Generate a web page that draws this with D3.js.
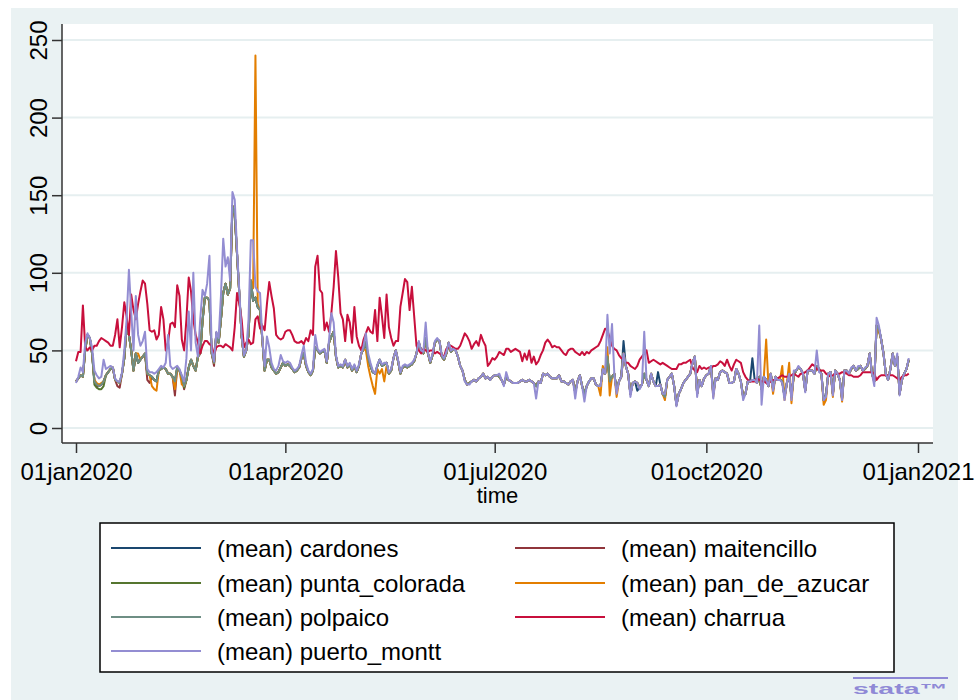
<!DOCTYPE html>
<html>
<head>
<meta charset="utf-8">
<script src="https://cdn.jsdelivr.net/npm/d3@7"></script>
<style>
  html, body { margin: 0; padding: 0; background: #ffffff; }
  svg { display: block; font-family: "Liberation Sans", Arial, Helvetica, sans-serif; }
</style>
</head>
<body>
<svg id="chart" width="976" height="700"></svg>
<script>
// Daily means per substation, starting 01jan2020 (one value per day)
const startDate = "2020-01-01";

const yTicks = [0, 50, 100, 150, 200, 250];
const xTickDates = ["2020-01-01", "2020-04-01", "2020-07-01", "2020-10-01", "2021-01-01"];
const xTickLabels = ["01jan2020", "01apr2020", "01jul2020", "01oct2020", "01jan2021"];

const seriesNames = ["cardones", "maitencillo", "punta_colorada", "pan_de_azucar", "polpaico", "charrua", "puerto_montt"];

const cardones = [
  30,32,34,33,50,60,58,48,30,28, 27,28,30,34,36,38,39,31,30,29, 35,45,65,60,50,37,48,42,44,46,
  48,35,34,33,31,30,37,38,39,38, 35,35,33,30,39,37,33,27,31,39, 44,40,37,46,48,69,84,84,82,48,
  42,61,55,70,87,93,86,90,143,138, 112,86,59,46,50,60,95,82,84,78, 76,57,37,44,44,39,37,35,36,39,
  42,40,41,40,38,36,37,39,45,48, 40,36,34,37,52,50,48,49,50,42, 55,59,62,46,39,40,39,44,39,41,
  37,40,36,40,48,51,55,45,40,36, 35,40,44,40,41,42,35,37,45,50, 43,35,39,40,39,40,41,43,48,55,
  50,48,58,48,42,47,55,57,56,46, 44,48,55,49,51,50,46,40,37,31, 28,29,30,31,30,32,33,35,32,33,
  31,33,34,34,33,31,28,33,31,30, 29,29,29,30,31,30,30,31,30,29, 27,30,29,35,34,35,33,32,32,32,
  34,30,30,29,28,30,31,23,30,34, 27,22,27,30,32,32,28,27,27,38, 35,46,30,33,35,24,30,33,56,40,
  35,22,29,30,24,26,28,35,31,27, 35,30,27,36,28,22,20,31,33,35, 27,15,22,25,29,31,33,35,42,46,
  22,31,27,32,34,35,40,22,32,31, 36,37,36,35,29,29,30,38,35,30, 20,22,30,30,45,31,29,33,25,33,
  31,27,35,25,33,31,31,30,20,29, 34,20,34,37,39,38,35,24,37,37, 37,35,40,38,35,18,21,35,36,22,
  37,35,31,19,37,37,35,38,40,37, 38,40,37,38,40,48,35,30,66,64, 57,48,35,31,38,48,40,46,22,31,
  35,38,44
];

const maitencillo = [
  30,32,34,33,50,60,58,48,30,27, 27,28,30,34,36,38,39,31,27,26, 35,45,65,60,50,37,48,42,44,46,
  48,31,29,33,31,30,37,38,39,38, 35,35,33,21,39,37,33,25,31,39, 44,40,37,46,48,69,84,84,82,48,
  40,61,55,70,87,93,86,90,143,138, 112,86,59,46,50,60,95,82,84,78, 76,57,37,44,44,39,37,35,36,39,
  42,40,41,40,38,36,37,39,45,48, 40,36,34,37,52,50,48,49,50,42, 55,59,62,46,39,40,39,44,39,41,
  37,40,36,40,48,51,55,45,40,36, 35,40,44,40,41,42,35,37,45,50, 43,35,39,40,39,40,41,43,48,55,
  50,48,58,48,42,47,55,57,56,46, 44,48,55,49,51,50,46,40,37,31, 28,29,30,31,30,32,33,35,32,33,
  31,33,34,34,33,31,28,33,31,30, 29,29,29,30,31,30,30,31,30,29, 27,30,29,35,34,35,33,32,32,32,
  34,30,30,29,28,30,31,23,30,34, 27,22,27,30,32,32,28,27,27,38, 35,46,30,33,35,24,30,33,48,40,
  35,22,29,30,29,26,28,35,31,27, 35,30,27,27,28,22,20,31,33,35, 27,15,22,25,29,31,33,35,42,46,
  22,31,27,32,34,35,40,22,32,31, 36,37,36,35,29,29,30,38,35,30, 20,22,30,30,31,31,29,33,25,33,
  31,27,35,25,33,31,31,30,20,29, 34,20,34,37,39,38,35,24,37,37, 37,35,40,38,35,18,21,35,36,22,
  37,35,31,19,37,37,35,38,40,37, 38,40,37,38,40,48,35,30,66,64, 57,48,35,31,38,48,40,46,22,31,
  35,38,44
];

const punta_colorada = [
  30,32,34,33,50,60,58,48,28,26, 25,25,27,34,36,38,39,31,30,29, 35,45,65,60,50,37,48,42,44,46,
  48,35,34,33,31,30,37,38,39,38, 35,35,33,30,39,37,33,26,31,39, 44,40,37,46,48,69,84,84,82,48,
  42,61,55,70,87,93,86,90,143,138, 112,86,59,46,50,60,95,82,84,78, 76,57,37,44,44,39,37,35,36,39,
  42,40,41,40,38,36,37,39,45,48, 40,36,34,37,52,50,48,49,50,42, 55,59,62,46,39,40,39,44,39,41,
  37,40,36,40,48,51,55,45,40,36, 35,40,44,40,41,42,35,37,45,50, 43,35,39,40,39,40,41,43,48,55,
  50,48,58,48,42,47,55,57,56,46, 44,48,55,49,51,50,46,40,37,31, 28,29,30,31,30,32,33,35,32,33,
  31,33,34,34,33,31,28,33,31,30, 29,29,29,30,31,30,30,31,30,29, 27,30,29,35,34,35,33,32,32,32,
  34,30,30,29,28,30,31,23,30,34, 27,22,27,30,32,32,28,27,27,38, 35,46,30,33,35,24,30,33,48,40,
  35,22,29,30,29,26,28,35,31,27, 35,30,27,27,28,22,20,31,33,35, 27,15,22,25,29,31,33,35,42,46,
  22,31,27,32,34,35,40,22,32,31, 36,37,36,35,29,29,30,38,35,30, 20,22,30,30,31,31,29,33,25,33,
  31,27,35,25,33,31,31,30,20,29, 34,20,34,37,39,38,35,24,37,37, 37,35,40,38,35,18,21,35,36,22,
  37,35,31,19,37,37,35,38,40,37, 38,40,37,38,40,48,35,30,66,64, 57,48,35,31,38,48,40,46,22,31,
  35,38,44
];

const pan_de_azucar = [
  30,32,34,33,50,60,58,48,31,29, 28,29,30,34,36,38,39,31,30,29, 35,45,65,60,50,37,48,48,44,46,
  48,35,34,27,25,24,37,38,39,38, 35,35,33,25,39,37,28,27,31,39, 44,40,37,46,48,69,84,84,82,48,
  42,61,55,70,87,93,86,90,143,138, 112,86,59,46,50,60,95,90,240,80, 76,57,37,44,44,39,37,35,36,39,
  42,40,41,40,38,36,37,39,45,48, 40,36,34,37,52,50,48,49,50,42, 55,59,62,46,39,40,39,44,39,41,
  37,40,36,40,48,51,50,40,33,27, 22,38,35,38,30,40,35,37,45,50, 43,35,39,40,39,40,41,43,48,55,
  50,48,58,48,42,47,55,57,56,46, 44,48,55,49,51,50,46,40,37,31, 28,29,30,31,30,32,33,35,32,33,
  31,33,34,34,33,31,28,33,31,30, 29,29,29,30,31,30,30,31,30,29, 27,30,29,35,34,35,33,32,32,32,
  34,30,30,29,28,30,31,23,30,34, 27,22,27,30,32,32,28,27,21,40, 35,52,21,33,35,20,30,33,48,40,
  35,22,29,30,29,26,28,35,31,27, 35,30,27,27,28,22,18,31,33,35, 27,15,22,25,29,31,33,35,42,46,
  22,31,27,32,34,35,40,20,32,31, 36,37,36,35,29,29,30,38,35,30, 20,22,30,30,31,31,29,33,25,33,
  57,27,35,22,33,31,31,40,18,29, 42,16,34,37,39,38,35,24,37,37, 37,35,40,38,35,15,18,35,36,20,
  37,35,31,17,37,37,35,38,40,37, 38,40,37,38,40,48,35,30,66,62, 57,48,35,31,38,48,40,46,22,31,
  35,38,44
];

const polpaico = [
  30,32,34,33,50,60,58,48,30,28, 27,28,30,34,36,38,39,31,30,29, 35,45,65,60,50,37,48,42,44,46,
  48,35,34,33,31,30,37,38,39,38, 35,35,33,30,39,37,33,27,31,39, 44,40,37,46,48,69,84,84,82,48,
  42,61,55,70,87,93,86,90,143,138, 112,86,59,46,50,60,95,82,84,78, 76,57,37,44,44,39,37,35,36,39,
  42,40,41,40,38,36,37,39,45,48, 40,36,34,37,52,50,48,49,50,42, 55,59,62,46,39,40,39,44,39,41,
  37,40,36,40,48,51,55,45,40,36, 35,40,44,40,41,42,35,37,45,50, 43,35,39,40,39,40,41,43,48,55,
  50,48,58,48,42,47,55,57,56,46, 44,48,55,49,51,50,46,40,37,31, 28,29,30,31,30,32,33,35,32,33,
  31,33,34,34,33,31,28,33,31,30, 29,29,29,30,31,30,30,31,30,29, 27,30,29,35,34,35,33,32,32,32,
  34,30,30,29,28,30,31,23,30,34, 27,22,27,30,32,32,28,27,27,38, 35,46,30,33,35,24,30,33,48,40,
  35,22,29,30,29,26,28,35,31,27, 35,30,27,27,28,22,20,31,33,35, 27,15,22,25,29,31,33,35,42,46,
  22,31,27,32,34,35,40,22,32,31, 36,37,36,35,29,29,30,38,35,30, 20,22,30,30,31,31,29,33,25,33,
  31,27,35,25,33,31,31,30,20,29, 34,20,34,37,39,38,35,24,37,37, 37,35,40,38,35,18,21,35,36,22,
  37,35,31,19,37,37,35,38,40,37, 38,40,37,38,40,48,35,30,66,64, 57,48,35,31,38,48,40,46,22,31,
  35,38,44
];

const charrua = [
  43,49,49,79,52,50,52,50,53,53, 56,58,57,56,55,53,53,60,70,52, 65,81,72,60,86,76,70,80,88,95,
  93,80,63,62,63,57,60,78,70,50, 55,67,68,65,92,85,57,50,70,97, 88,70,60,55,48,53,56,56,54,53,
  47,52,53,53,52,54,53,52,50,65, 87,80,70,52,55,57,54,55,70,72, 64,66,63,80,94,85,77,60,58,57,
  58,62,63,63,60,56,55,55,56,54, 58,56,63,60,104,111,89,87,63,68, 62,74,91,114,97,74,70,56,73,68,
  55,78,59,53,50,57,61,65,62,61, 76,56,84,72,58,86,65,58,53,56, 56,78,87,96,94,76,91,72,53,50,
  48,51,50,49,50,50,48,49,48,47, 46,51,52,53,52,51,51,53,57,61, 59,56,51,54,56,53,60,56,53,40,
  42,45,44,46,49,48,47,51,51,49, 50,51,50,49,43,48,44,50,42,46, 41,43,47,50,55,57,55,52,53,52,
  52,50,48,47,50,51,51,49,48,47, 49,47,49,48,50,51,52,53,56,60, 64,63,58,53,51,50,47,45,44,42,
  42,40,39,38,40,44,46,48,50,42, 43,44,43,42,41,42,41,40,39,38, 38,38,41,41,42,42,43,44,39,37,
  36,40,38,39,38,39,38,40,40,41, 43,42,40,44,40,37,41,44,43,42, 36,33,31,30,30,30,32,31,30,30,
  29,29,30,31,31,32,33,34,33,33, 33,34,35,34,33,35,35,36,37,39, 41,40,38,37,37,37,35,34,33,34,
  35,35,35,36,36,35,34,34,33,33, 33,34,36,36,36,36,36,35,31,33, 34,34,34,34,34,34,33,32,31,33,
  34,34,35
];

const puerto_montt = [
  29,33,39,36,55,61,58,52,37,34, 32,33,44,38,39,40,39,32,30,30, 36,50,70,102,75,50,85,60,53,56,
  62,38,36,36,35,36,38,40,39,42, 60,40,38,39,40,38,34,30,45,75, 50,100,55,46,70,89,85,93,111,50,
  43,62,58,85,122,104,110,95,152,147, 115,88,60,47,50,70,121,121,91,88, 87,58,40,59,52,42,38,37,40,47,
  43,42,43,42,39,37,38,40,47,53, 42,37,35,38,60,51,49,50,51,43, 57,74,68,47,40,41,40,44,40,42,
  38,41,37,41,48,53,61,48,42,37, 35,41,44,41,42,42,36,38,45,50, 44,36,40,41,40,41,42,44,48,56,
  50,49,68,48,43,48,56,58,56,47, 45,49,55,50,51,50,46,40,37,30, 28,28,30,31,30,32,33,35,32,33,
  31,33,34,34,35,31,27,36,31,30, 29,29,29,30,31,30,30,31,30,29, 19,30,29,35,34,35,33,32,32,32,
  34,30,30,29,28,30,31,19,30,34, 27,17,27,30,32,32,28,27,27,38, 35,73,48,67,35,22,30,33,48,40,
  35,20,29,30,29,25,28,62,31,27, 35,30,27,27,28,22,22,31,33,35, 27,14,22,25,29,31,33,35,42,46,
  20,31,27,32,34,35,40,19,32,31, 36,37,36,35,29,29,30,38,35,30, 18,22,30,30,31,31,29,66,15,33,
  31,27,35,24,33,31,31,29,18,29, 35,18,37,37,40,38,35,23,37,37, 37,35,50,36,35,18,20,35,36,21,
  37,35,31,18,37,37,35,39,40,37, 40,40,37,39,40,48,35,27,71,66, 57,48,35,31,38,48,40,48,21,31,
  35,38,45
];

// Stata s2color palette, in plotting order
const seriesColors = ["#1a476f", "#90353b", "#55752f", "#e37e00", "#6e8e84", "#c80f3c", "#938dd2"];
const seriesValues = [cardones, maitencillo, punta_colorada, pan_de_azucar, polpaico, charrua, puerto_montt];

const svg = d3.select("#chart");
const W = 976, H = 700;
const plot = { left: 62, right: 933, top: 24, bottom: 443 };
const font = 24;

// graph region background
svg.append("rect").attr("x", 0).attr("y", 0).attr("width", W).attr("height", H).attr("fill", "#ffffff");
svg.append("rect").attr("x", 11).attr("y", 8).attr("width", 947).attr("height", 692).attr("fill", "#eaf2f3");

// plot region
svg.append("rect")
  .attr("x", plot.left).attr("y", plot.top)
  .attr("width", plot.right - plot.left).attr("height", plot.bottom - plot.top)
  .attr("fill", "#ffffff");

const parse = d3.utcParse("%Y-%m-%d");
const t0 = parse(startDate);

const x = d3.scaleUtc()
  .domain([parse("2020-01-01"), parse("2021-01-01")])
  .range([76, 918]);
const y = d3.scaleLinear().domain([0, 250]).range([428, 40]);

// horizontal grid
svg.append("g").selectAll("line").data(yTicks).join("line")
  .attr("x1", plot.left).attr("x2", plot.right)
  .attr("y1", d => y(d)).attr("y2", d => y(d))
  .attr("stroke", "#e6eff0").attr("stroke-width", 2);

// series
const line = d3.line()
  .x((d, i) => x(d3.utcDay.offset(t0, i)))
  .y(d => y(d));

const gLines = svg.append("g");
seriesValues.forEach((vals, k) => {
  gLines.append("path")
    .datum(vals)
    .attr("fill", "none")
    .attr("stroke", seriesColors[k])
    .attr("stroke-width", 2)
    .attr("stroke-linejoin", "round")
    .attr("d", line);
});

// y axis
const yAxis = svg.append("g")
  .attr("transform", `translate(${plot.left},0)`)
  .call(d3.axisLeft(y).tickValues(yTicks).tickSize(10).tickFormat(d3.format("d")));
yAxis.select(".domain").remove();
yAxis.selectAll(".tick line").attr("stroke", "#333").attr("stroke-width", 1.5);
yAxis.selectAll(".tick text")
  .attr("x", 0).attr("y", 0).attr("dy", 0)
  .attr("text-anchor", "middle")
  .attr("transform", "translate(-15,0) rotate(-90)")
  .attr("font-size", font).attr("fill", "#000")
  .attr("font-family", "Liberation Sans, Arial, sans-serif");
svg.append("line")
  .attr("x1", plot.left).attr("x2", plot.left)
  .attr("y1", plot.top).attr("y2", plot.bottom)
  .attr("stroke", "#333").attr("stroke-width", 1.5);

// x axis
const xDates = xTickDates.map(parse);
const xAxis = svg.append("g")
  .attr("transform", `translate(0,${plot.bottom})`)
  .call(d3.axisBottom(x).tickValues(xDates).tickSize(10).tickPadding(10)
    .tickFormat((d, i) => xTickLabels[i]));
xAxis.select(".domain").remove();
xAxis.selectAll(".tick line").attr("stroke", "#333").attr("stroke-width", 1.5);
xAxis.selectAll(".tick text")
  .attr("font-size", font).attr("fill", "#000")
  .attr("font-family", "Liberation Sans, Arial, sans-serif");
svg.append("line")
  .attr("x1", plot.left).attr("x2", plot.right)
  .attr("y1", plot.bottom).attr("y2", plot.bottom)
  .attr("stroke", "#333").attr("stroke-width", 1.5);

// axis title
svg.append("text")
  .attr("x", (plot.left + plot.right) / 2).attr("y", 503)
  .attr("text-anchor", "middle").attr("font-size", 22).attr("fill", "#000")
  .text("time");

// legend
const lg = { x: 100, y: 523, w: 794, h: 149 };
svg.append("rect")
  .attr("x", lg.x).attr("y", lg.y).attr("width", lg.w).attr("height", lg.h)
  .attr("fill", "#ffffff").attr("stroke", "#000").attr("stroke-width", 1.5);
const rowY = [548, 583, 617, 651];
const colX = [111, 515];
seriesNames.forEach((name, k) => {
  const cx = colX[k % 2], cy = rowY[Math.floor(k / 2)];
  svg.append("line")
    .attr("x1", cx).attr("x2", cx + 90).attr("y1", cy).attr("y2", cy)
    .attr("stroke", seriesColors[k]).attr("stroke-width", 2);
  svg.append("text")
    .attr("x", cx + 106).attr("y", cy + 8.5)
    .attr("font-size", font).attr("fill", "#000")
    .text("(mean) " + name);
});

// software mark
svg.append("line")
  .attr("x1", 853).attr("x2", 948).attr("y1", 678).attr("y2", 678)
  .attr("stroke", "#8f89d6").attr("stroke-width", 2);
svg.append("text")
  .attr("x", 853).attr("y", 694)
  .attr("font-size", 15).attr("font-weight", "bold").attr("fill", "#8f89d6")
  .attr("textLength", 95).attr("lengthAdjust", "spacingAndGlyphs")
  .text("stata\u2122");
</script>
</body>
</html>
